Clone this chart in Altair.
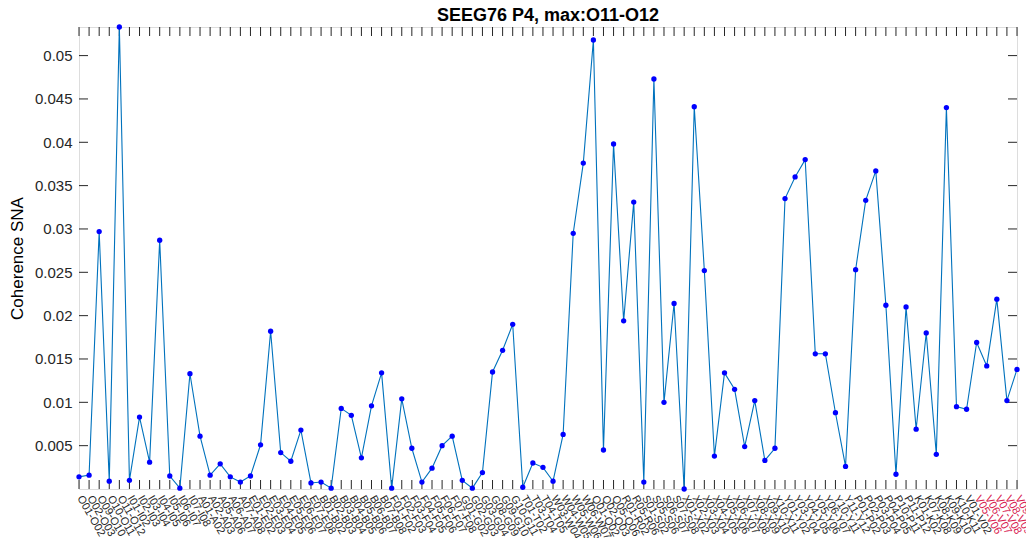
import altair as alt
import pandas as pd

labels = [
    "O01-O02", "O02-O03", "O09-O10", "O10-O11", "O11-O12",
    "I01-I02", "I02-I03", "I03-I04", "I04-I05", "I05-I06", "I06-I07", "I07-I08",
    "A01-A02", "A02-A03", "A05-A06", "A06-A07", "A07-A08",
    "E01-E02", "E02-E03", "E03-E04", "E04-E05", "E05-E06", "E06-E07", "E07-E08",
    "B01-B02", "B02-B03", "B03-B04", "B04-B05", "B05-B06", "B06-B07", "B07-B08",
    "F01-F02", "F02-F03", "F03-F04", "F04-F05", "F05-F06", "F06-F07", "F07-F08",
    "G01-G02", "G02-G03", "G03-G04", "G08-G09", "G09-G10", "G10-G11",
    "T01-T02", "T03-T04", "T04-T05",
    "W03-W04", "W04-W05", "W05-W06", "W06-W07",
    "Q01-Q02", "Q02-Q03", "Q05-Q06",
    "R01-R02", "R05-R06",
    "S01-S02", "S05-S06", "S06-S07", "S07-S08",
    "X01-X02", "X02-X03", "X03-X04", "X04-X05", "X05-X06", "X06-X07", "X07-X08",
    "X08-X09", "X09-X10", "X10-X11",
    "Y01-Y02", "Y03-Y04", "Y04-Y05", "Y05-Y06", "Y06-Y07", "Y10-Y11", "Y11-Y12",
    "P01-P02", "P02-P03", "P03-P04", "P04-P05", "P10-P11", "P11-P12",
    "K01-K02", "K07-K08", "K08-K09", "K09-K10", "K10-K11",
    "V01-V02", "V05-V06", "V06-V07", "V07-V08", "V08-V09", "V09-V10",
]

values = [
    0.0014, 0.0016, 0.0297, 0.0009, 0.0533,
    0.0010, 0.0083, 0.0031, 0.0287, 0.0015, 0.0001, 0.0133,
    0.0061, 0.0016, 0.0029, 0.0014, 0.0008,
    0.0015, 0.0051, 0.0182, 0.0042, 0.0032, 0.0068, 0.0007,
    0.0008, 0.0001, 0.0093, 0.0085, 0.0036, 0.0096, 0.0134,
    0.0001, 0.0104, 0.0047, 0.0008, 0.0024, 0.0050, 0.0061,
    0.0010, 0.0001, 0.0019, 0.0135, 0.0160, 0.0190,
    0.0002, 0.0030, 0.0025,
    0.0009, 0.0063, 0.0295, 0.0376,
    0.0518, 0.0045, 0.0398,
    0.0194, 0.0331,
    0.0008, 0.0473, 0.0100, 0.0214,
    0.0000, 0.0441, 0.0252, 0.0038, 0.0134, 0.0115, 0.0049,
    0.0102, 0.0033, 0.0047,
    0.0335, 0.0360, 0.0380, 0.0156, 0.0156, 0.0088, 0.0026,
    0.0253, 0.0333, 0.0367, 0.0212, 0.0017, 0.0210,
    0.0069, 0.0180, 0.0040, 0.0440, 0.0095,
    0.0092, 0.0169, 0.0142, 0.0219, 0.0102, 0.0138,
]

red_labels = ["V05-V06", "V06-V07", "V07-V08", "V08-V09", "V09-V10"]
y_ticks = [0.005, 0.01, 0.015, 0.02, 0.025, 0.03, 0.035, 0.04, 0.045, 0.05]

df = pd.DataFrame({"label": labels, "value": values})
tick_df = pd.DataFrame({"value": y_ticks})

W, H = 938, 462
FONT = "Liberation Sans"
AX = "#262626"

red_test = " || ".join([f"datum.value === '{r}'" for r in red_labels])

x_enc = alt.X(
    "label:N",
    sort=labels,
    scale=alt.Scale(type="point", padding=0),
    axis=alt.Axis(
        title=None,
        labelAngle=60,
        labelAlign="left",
        labelBaseline="middle",
        labelOverlap=False,
        labelPadding=7,
        labelFontSize=11,
        labelFont=FONT,
        labelColor={"condition": {"test": red_test, "value": "#D8204F"}, "value": AX},
        labelLimit=0,
        ticks=False,
        domain=False,
        grid=False,
    ),
)

y_scale = alt.Scale(domain=[0, 0.0533], nice=False, zero=False)

y_enc = alt.Y(
    "value:Q",
    scale=y_scale,
    axis=alt.Axis(
        title="Coherence SNA",
        titleFont=FONT,
        titleFontSize=17,
        titleFontWeight="normal",
        titleColor="#000000",
        titlePadding=8,
        values=y_ticks,
        format="~g",
        labelFont=FONT,
        labelFontSize=15,
        labelColor=AX,
        labelPadding=7,
        ticks=False,
        domain=False,
        grid=False,
    ),
)

line = alt.Chart(df).mark_line(color="#0072BD", strokeWidth=1.1).encode(x=x_enc, y=y_enc)
pts = alt.Chart(df).mark_circle(color="#0000FF", size=28, opacity=1).encode(x=x_enc, y=y_enc)

x_plain = alt.X("label:N", sort=labels)
y_plain = alt.Y("value:Q")

top_ticks = alt.Chart(df).mark_rule(color=AX, strokeWidth=1).encode(
    x=x_plain, y=alt.value(0), y2=alt.value(9)
)
bot_ticks = alt.Chart(df).mark_rule(color=AX, strokeWidth=1).encode(
    x=x_plain, y=alt.value(H), y2=alt.value(H - 9)
)
left_ticks = alt.Chart(tick_df).mark_rule(color=AX, strokeWidth=1).encode(
    y=y_plain, x=alt.value(0), x2=alt.value(9)
)
right_ticks = alt.Chart(tick_df).mark_rule(color=AX, strokeWidth=1).encode(
    y=y_plain, x=alt.value(W), x2=alt.value(W - 9)
)

chart = (
    alt.layer(top_ticks, bot_ticks, left_ticks, right_ticks, line, pts)
    .properties(
        width=W,
        height=H,
        title=alt.TitleParams(
            "SEEG76 P4, max:O11-O12",
            font=FONT,
            fontSize=18,
            fontWeight="bold",
            color="#000000",
            offset=3,
            dy=4,
        ),
        autosize=alt.AutoSizeParams(type="none"),
        padding={"left": 71, "top": 19, "right": 9, "bottom": 49},
    )
    .configure_view(stroke=AX, strokeWidth=1)
    .configure(background="white")
)

chart.save("out.html", embed_options={"renderer": "svg", "actions": False})
